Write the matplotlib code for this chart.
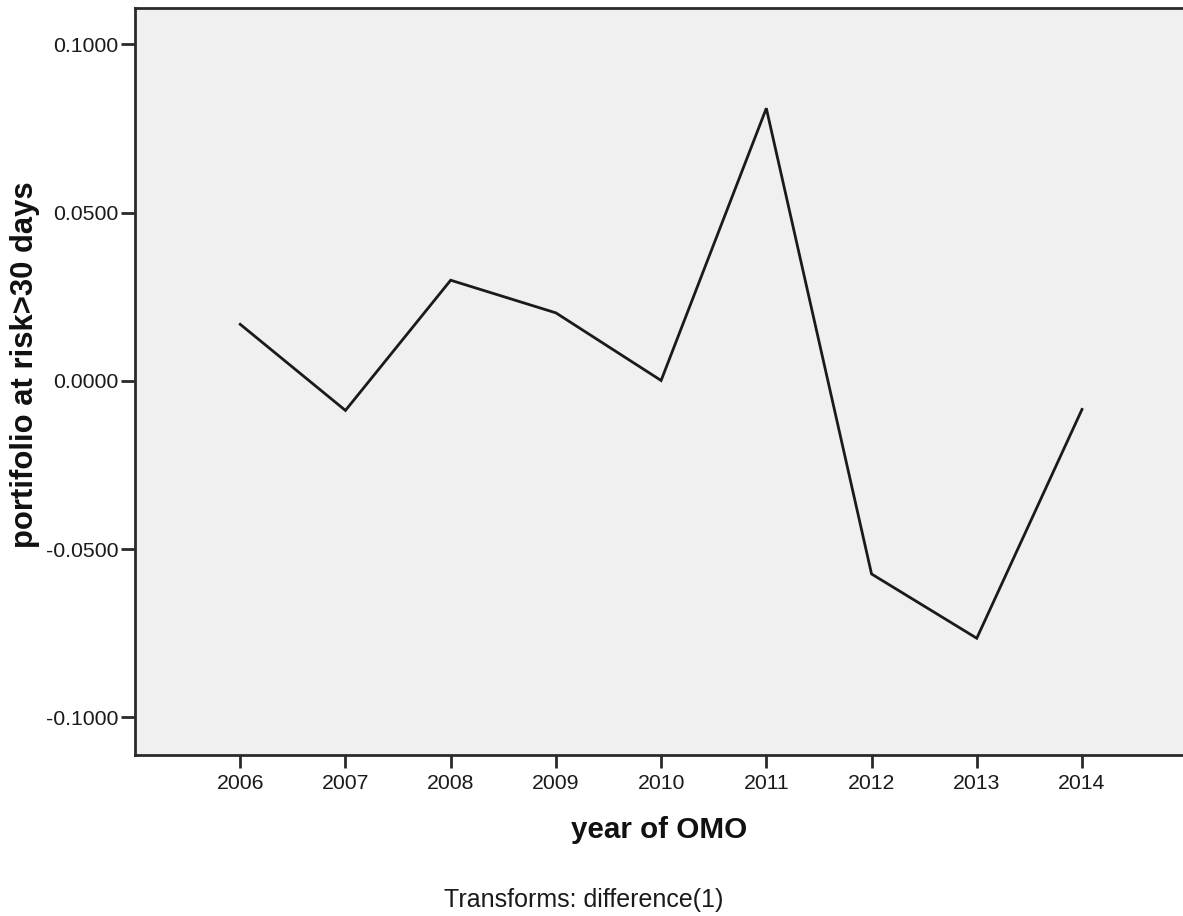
import matplotlib.pyplot as plt

# differenced series, one value per year
years = [2006, 2007, 2008, 2009, 2010, 2011, 2012, 2013, 2014]
par30_diff = [0.0168, -0.0088, 0.0299, 0.0202, 0.0001, 0.0810, -0.0574, -0.0765, -0.0085]
y_ticks = [-0.1, -0.05, 0.0, 0.05, 0.1]

plt.rcParams['font.family'] = ['Liberation Sans', 'DejaVu Sans']

W, H = 1183, 916
fig = plt.figure(figsize=(W / 100, H / 100), dpi=100, facecolor='white')
ax = fig.add_axes([135 / W, (H - 755) / H, 1048 / W, 747 / H])
ax.set_facecolor('#f0f0f0')

ax.plot(years, par30_diff, color='#1a1a1a', linewidth=2.0, solid_joinstyle='miter')

ax.set_xlim(2005, 2014.96)
ax.set_ylim(-0.1112, 0.1108)
ax.set_xticks(years)
ax.set_xticklabels([str(y) for y in years])
ax.set_yticks(y_ticks)
ax.set_yticklabels(['%.4f' % v for v in y_ticks])

for side in ['left', 'bottom', 'top']:
    ax.spines[side].set_linewidth(2.0)
    ax.spines[side].set_color('#2a2a2a')
ax.spines['right'].set_visible(False)

ax.tick_params(axis='both', colors='#2a2a2a', labelcolor='#1a1a1a', width=2.0, labelsize=15.3)
ax.tick_params(axis='x', length=9, pad=5)
ax.tick_params(axis='y', length=10, pad=2)

ax.set_xlabel('year of OMO', fontsize=21.3, fontweight='bold', color='#111111')
ax.xaxis.set_label_coords(0.5, -0.081)
ax.set_ylabel('portifolio at risk>30 days', fontsize=22.3, fontweight='bold', color='#111111',
              va='center')
ax.yaxis.set_label_coords(-0.105, 0.522)

fig.text(584 / W, 1 - 900 / H, 'Transforms: difference(1)', fontsize=18,
         ha='center', va='center', color='#1a1a1a')

fig.savefig('out.png', dpi=100, facecolor='white')
